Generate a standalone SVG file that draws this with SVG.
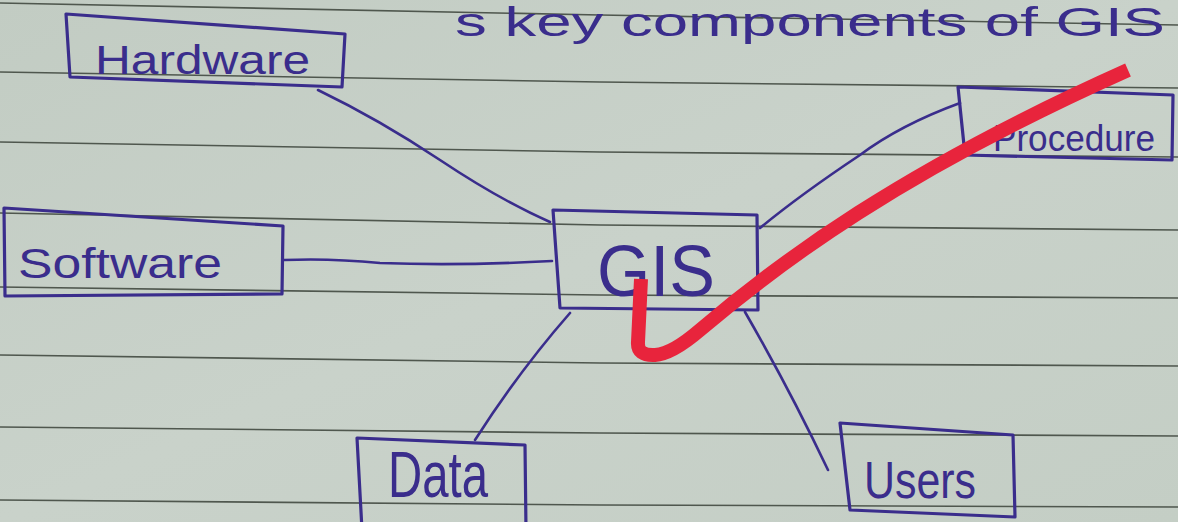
<svg xmlns="http://www.w3.org/2000/svg" width="1178" height="522" viewBox="0 0 1178 522">
<defs>
<linearGradient id="paper" x1="0" y1="0" x2="1" y2="1">
<stop offset="0" stop-color="#c2ccc3"/>
<stop offset="0.5" stop-color="#c9d2ca"/>
<stop offset="1" stop-color="#c4cec5"/>
</linearGradient>
<style>
.rule{fill:none;stroke:#4f574e;stroke-width:1.6}
.box{fill:none;stroke:#3a2d8c;stroke-width:3.2;stroke-linejoin:round}
.edge{fill:none;stroke:#3a2d8c;stroke-width:2.6;stroke-linecap:round}
.lbl{font-family:"Liberation Sans","DejaVu Sans",sans-serif;fill:#3a2d8c}
.tick{fill:none;stroke:#e8243c;stroke-width:14;stroke-linecap:butt;stroke-linejoin:round}
</style>
</defs>
<rect width="1178" height="522" fill="url(#paper)"/>
<g id="ruling">
<polyline class="rule" points="0,3 600,15 1178,25"/>
<polyline class="rule" points="0,72 600,82 1178,88"/>
<polyline class="rule" points="0,142 600,152 1178,157"/>
<polyline class="rule" points="0,213 600,225 1178,230"/>
<polyline class="rule" points="0,287 600,295 1178,298"/>
<polyline class="rule" points="0,355 600,363 1178,366"/>
<polyline class="rule" points="0,427 600,433 1178,436"/>
<polyline class="rule" points="0,500 600,505 1178,507"/>
</g>
<g id="title">
<text class="lbl" x="455" y="36" font-size="40" textLength="710" lengthAdjust="spacingAndGlyphs">s key components of GIS</text>
</g>
<g id="connectors">
<path class="edge" d="M318,90 Q380,120 440,160 Q500,200 550,222"/>
<path class="edge" d="M284,260 Q330,258 380,263 Q460,266 552,261"/>
<path class="edge" d="M960,103 Q900,125 860,155 Q800,195 760,228"/>
<path class="edge" d="M570,313 Q520,370 475,440"/>
<path class="edge" d="M745,312 Q790,390 828,470"/>
</g>
<g id="hardware">
<polygon class="box" points="66,14 345,34 342,87 70,77"/>
<text class="lbl" x="95" y="74" font-size="40" textLength="215" lengthAdjust="spacingAndGlyphs">Hardware</text>
</g>
<g id="software">
<polygon class="box" points="4,208 283,226 282,294 5,296"/>
<text class="lbl" x="18" y="278" font-size="42" textLength="204" lengthAdjust="spacingAndGlyphs">Software</text>
</g>
<g id="gis">
<polygon class="box" points="553,210 757,215 758,310 560,308"/>
<text class="lbl" x="597" y="296" font-size="72" textLength="118" lengthAdjust="spacingAndGlyphs">GIS</text>
</g>
<g id="procedure">
<polygon class="box" points="958,87 1173,95 1172,160 965,155"/>
<text class="lbl" x="993" y="151" font-size="36" textLength="162" lengthAdjust="spacingAndGlyphs">Procedure</text>
</g>
<g id="data">
<polygon class="box" points="357,438 525,445 526,530 362,530"/>
<text class="lbl" x="388" y="497" font-size="64" textLength="100" lengthAdjust="spacingAndGlyphs">Data</text>
</g>
<g id="users">
<polygon class="box" points="840,423 1013,435 1015,517 850,510"/>
<text class="lbl" x="864" y="498" font-size="52" textLength="112" lengthAdjust="spacingAndGlyphs">Users</text>
</g>
<g id="check">
<path class="tick" d="M641,279 L638,342 Q637,356 655,355 Q672,354 700,330 C780,262 900,172 1128,70"/>
</g>
</svg>
